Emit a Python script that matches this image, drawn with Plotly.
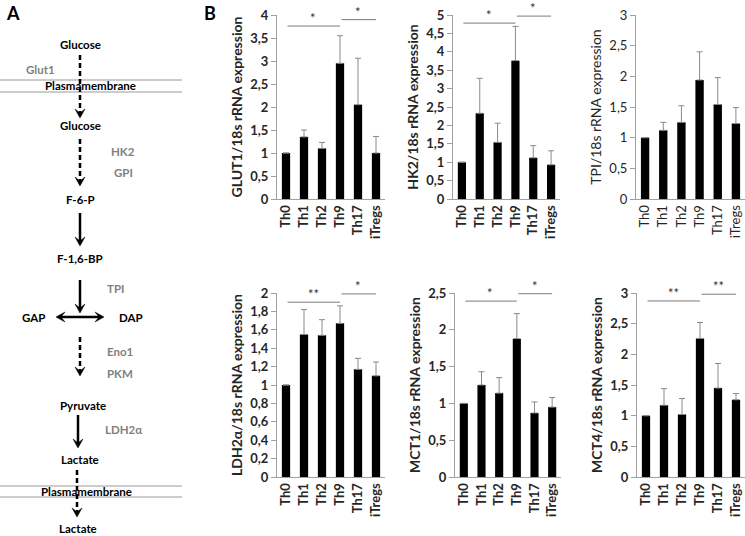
import plotly.graph_objects as go

W, H = 745, 536
F = "Lato"
AXC = "#a0a0a0"
TC = "#262626"
ERRC = "#8a8a8a"

cats = ["Th0", "Th1", "Th2", "Th9", "Th17", "iTregs"]

glut1 = [1.00, 1.35, 1.10, 2.95, 2.05, 1.00]
glut1_err = [0, 0.15, 0.13, 0.60, 1.01, 0.36]
hk2 = [1.00, 2.33, 1.54, 3.76, 1.12, 0.93]
hk2_err = [0, 0.95, 0.52, 0.93, 0.33, 0.38]
tpi = [1.00, 1.12, 1.25, 1.94, 1.54, 1.23]
tpi_err = [0, 0.13, 0.27, 0.46, 0.44, 0.26]
ldh = [1.00, 1.55, 1.54, 1.67, 1.17, 1.10]
ldh_err = [0, 0.27, 0.17, 0.19, 0.12, 0.15]
mct1 = [1.00, 1.25, 1.14, 1.88, 0.87, 0.95]
mct1_err = [0, 0.18, 0.21, 0.34, 0.15, 0.13]
mct4 = [1.00, 1.17, 1.02, 2.26, 1.45, 1.26]
mct4_err = [0, 0.27, 0.26, 0.26, 0.40, 0.10]

# significance brackets: (from index, to index, level, label)
glut1_sig = [(0, 3, 3.76, "*"), (3, 5, 3.90, "*")]
hk2_sig = [(0, 3, 4.78, "*"), (3, 5, 4.97, "*")]
tpi_sig = []
ldh_sig = [(0, 3, 1.90, "**"), (3, 5, 1.99, "*")]
mct1_sig = [(0, 3, 2.39, "*"), (3, 5, 2.49, "*")]
mct4_sig = [(0, 3, 2.87, "**"), (3, 5, 2.98, "**")]

panels = [
    dict(v=glut1, e=glut1_err, sig=glut1_sig, ymax=4, dt=0.5, title="GLUT1/18s rRNA expression",
         xpx=(277, 385), ypx=(15, 199), bold=True),
    dict(v=hk2, e=hk2_err, sig=hk2_sig, ymax=5, dt=0.5, title="HK2/18s rRNA expression",
         xpx=(453, 560), ypx=(15, 199), bold=True),
    dict(v=tpi, e=tpi_err, sig=tpi_sig, ymax=3, dt=0.5, title="TPI/18s rRNA expression",
         xpx=(636, 745), ypx=(15, 199), bold=False),
    dict(v=ldh, e=ldh_err, sig=ldh_sig, ymax=2, dt=0.2, title="LDH2α/18s rRNA expression",
         xpx=(277, 385), ypx=(293, 477), bold=True),
    dict(v=mct1, e=mct1_err, sig=mct1_sig, ymax=2.5, dt=0.5, title="MCT1/18s rRNA expression",
         xpx=(455, 561), ypx=(293, 477), bold=True),
    dict(v=mct4, e=mct4_err, sig=mct4_sig, ymax=3, dt=0.5, title="MCT4/18s rRNA expression",
         xpx=(637, 745), ypx=(293, 477), bold=True),
]

X = lambda x: x / W
Y = lambda y: 1 - y / H

fig = go.Figure()
layout = dict(width=W, height=H, margin=dict(l=0, r=0, t=0, b=0),
              paper_bgcolor="white", plot_bgcolor="white", showlegend=False,
              separators=", ", bargap=0.54, font=dict(family=F, color=TC))
annotations = []
shapes = []

for i, p in enumerate(panels, start=1):
    xa = "x" if i == 1 else f"x{i}"
    ya = "y" if i == 1 else f"y{i}"
    wt = "bold" if p["bold"] else "normal"
    fig.add_trace(go.Bar(
        x=cats, y=p["v"], xaxis=xa, yaxis=ya, marker=dict(color="black", line=dict(width=0)),
        error_y=dict(type="data", symmetric=False, array=p["e"], arrayminus=[0] * 6,
                     color=ERRC, thickness=1, width=3),
    ))
    layout["xaxis" if i == 1 else f"xaxis{i}"] = dict(
        domain=[X(p["xpx"][0]), X(p["xpx"][1])], anchor=ya, type="category",
        range=[-0.5, 5.5], showline=True, linecolor=AXC, linewidth=1, ticks="",
        tickangle=-90, showgrid=False, automargin=False,
        tickfont=dict(family=F, size=13, color=TC, weight=wt))
    layout["yaxis" if i == 1 else f"yaxis{i}"] = dict(
        domain=[Y(p["ypx"][1]), Y(p["ypx"][0])], anchor=xa, range=[0, p["ymax"]],
        dtick=p["dt"], showline=True, linecolor=AXC, linewidth=1, ticks="outside",
        ticklen=5, tickcolor=AXC, showgrid=False, zeroline=False, automargin=False,
        tickfont=dict(family=F, size=13, color=TC, weight=wt),
        title=dict(text=p["title"], standoff=4,
                   font=dict(family=F, size=14, color=TC, weight=wt)))
    for (a, b, lvl, lab) in p["sig"]:
        annotations.append(dict(xref=xa, yref=ya, axref=xa, ayref=ya, x=b, y=lvl, ax=a, ay=lvl,
                                text="", showarrow=True, arrowhead=0, arrowwidth=1,
                                arrowcolor="#7a7a7a", standoff=0, startstandoff=0))
        annotations.append(dict(xref=xa, yref=ya, x=(a + b) / 2, y=lvl, text=lab, showarrow=False,
                                yanchor="bottom", yshift=-1, borderpad=0,
                                font=dict(family=F, size=13, color="#333333")))

# ---- Panel A: pathway diagram ----
def txt(t, x, y, color="black", size=11.5, weight="bold", xanchor="center"):
    annotations.append(dict(xref="paper", yref="paper", x=X(x), y=Y(y), text=t, showarrow=False,
                            xanchor=xanchor, yanchor="middle",
                            font=dict(family=F, size=size, color=color, weight=weight)))

txt("A", 4, 13, size=18, xanchor="left")
txt("B", 202, 13, size=18, xanchor="left")

for (t, x, y) in [("Glucose", 80, 44), ("Glucose", 80, 126), ("F-6-P", 80, 200),
                  ("F-1,6-BP", 80, 258), ("GAP", 33, 317), ("DAP", 131, 317),
                  ("Pyruvate", 83, 405), ("Lactate", 80, 459), ("Lactate", 78, 528)]:
    txt(t, x, y)
for (t, x, y) in [("Glut1", 40, 69), ("HK2", 123, 152), ("GPI", 123, 173), ("TPI", 115, 288),
                  ("Eno1", 120, 351), ("PKM", 120, 373), ("LDH2α", 123, 429)]:
    txt(t, x, y, color="#7f7f7f")

# membranes
for y in (80, 92, 486, 497):
    shapes.append(dict(type="line", xref="paper", yref="paper", x0=X(0), x1=X(182),
                       y0=Y(y), y1=Y(y), line=dict(color="#9a9a9a", width=1)))
txt("Plasmamembrane", 90, 86)
txt("Plasmamembrane", 86, 491)

def head(x, y, dx, dy):
    # tip at (x,y) pointing in direction (dx,dy) (unit, pixels)
    L, Wd, N = 9, 5, 5
    px_, py_ = -dy, dx
    pts = [(x, y),
           (x - dx * L + px_ * Wd, y - dy * L + py_ * Wd),
           (x - dx * N, y - dy * N),
           (x - dx * L - px_ * Wd, y - dy * L - py_ * Wd)]
    path = "M " + " L ".join(f"{X(a):.5f},{Y(b):.5f}" for a, b in pts) + " Z"
    shapes.append(dict(type="path", xref="paper", yref="paper", path=path,
                       fillcolor="black", line=dict(color="black", width=0.5)))

def varrow(x, y0, y1, dashed):
    shapes.append(dict(type="line", xref="paper", yref="paper", x0=X(x), x1=X(x),
                       y0=Y(y0), y1=Y(y1 - 5),
                       line=dict(color="black", width=2.5, dash="5px,3px" if dashed else "solid")))
    head(x, y1, 0, 1)

varrow(80, 55, 118, True)
varrow(80, 139, 186, True)
varrow(80, 213, 246, False)
varrow(80, 280, 313, False)
varrow(80, 337, 376, True)
varrow(78, 415, 448, False)
varrow(77, 470, 517, True)
# double horizontal arrow GAP <-> DAP
shapes.append(dict(type="line", xref="paper", yref="paper", x0=X(61), x1=X(99),
                   y0=Y(317), y1=Y(317), line=dict(color="black", width=2.5)))
head(56, 317, -1, 0)
head(104, 317, 1, 0)

layout["annotations"] = annotations
layout["shapes"] = shapes
fig.update_layout(**layout)
fig.write_html("out.html", config={"displayModeBar": False},
               post_script="document.body.style.margin='0';document.body.style.overflow='hidden';")
